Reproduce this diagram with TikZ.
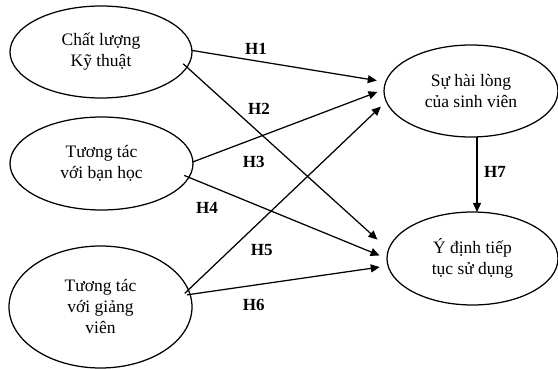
\documentclass[tikz,border=0pt]{standalone}
\usepackage{fontspec}
\setmainfont{Liberation Serif}
\usetikzlibrary{shapes.geometric,arrows.meta}
\begin{document}
\begin{tikzpicture}[x=1pt,y=-1pt,
  ell/.style={ellipse,draw,line width=1.25pt,inner sep=0pt,outer sep=0pt,align=center,
    font=\fontsize{17.5}{21}\selectfont},
  arr/.style={line width=1.25pt,-{Triangle[length=9pt,width=8pt]}},
  hlab/.style={font=\fontsize{17}{18}\selectfont\bfseries,inner sep=0pt}]
\useasboundingbox (0,0) rectangle (558,369);
\node[ell,minimum width=182pt,minimum height=92pt] (e1) at (101,52) {Chất lượng\\Kỹ thuật};
\node[ell,minimum width=183pt,minimum height=93pt] (e2) at (101.5,163.5) {Tương tác\\với bạn học};
\node[ell,minimum width=183pt,minimum height=122pt] (e3) at (100.5,307) {Tương tác\\với giảng\\viên};
\node[ell,minimum width=174pt,minimum height=92pt] (e4) at (471,91) {Sự hài lòng\\của sinh viên};
\node[ell,minimum width=171pt,minimum height=93pt] (e5) at (472.5,258.5) {Ý định tiếp\\tục sử dụng};

\draw[arr,shorten >=9pt] (e1.1) -- (e4.174);
\draw[arr,shorten <=-5pt,shorten >=15pt] (e1.-10) -- (e5.174.5);
\draw[arr,shorten >=7pt] (e2.1) -- (e4.179);
\draw[arr,shorten <=-5pt,shorten >=8pt] (e2.-9) -- (e5.180);
\draw[arr,shorten <=-5pt,shorten >=7.5pt] (e3.11.6) -- (e4.187);
\draw[arr,shorten <=-3pt,shorten >=8.4pt] (e3.8) -- (e5.185);
\draw[arr] ([xshift=6pt]e4.south) -- ([xshift=6pt]e4.south |- e5.north);

\node[hlab] (h1) at (256,48.7) {H1};
\node[hlab] (h2) at (259,108.7) {H2};
\node[hlab] (h3) at (253.7,162) {H3};
\node[hlab] (h4) at (207,207.7) {H4};
\node[hlab] (h5) at (261.8,250.5) {H5};
\node[hlab] (h6) at (253.7,305.3) {H6};
\node[hlab] (h7) at (495,172) {H7};
\end{tikzpicture}
\end{document}
